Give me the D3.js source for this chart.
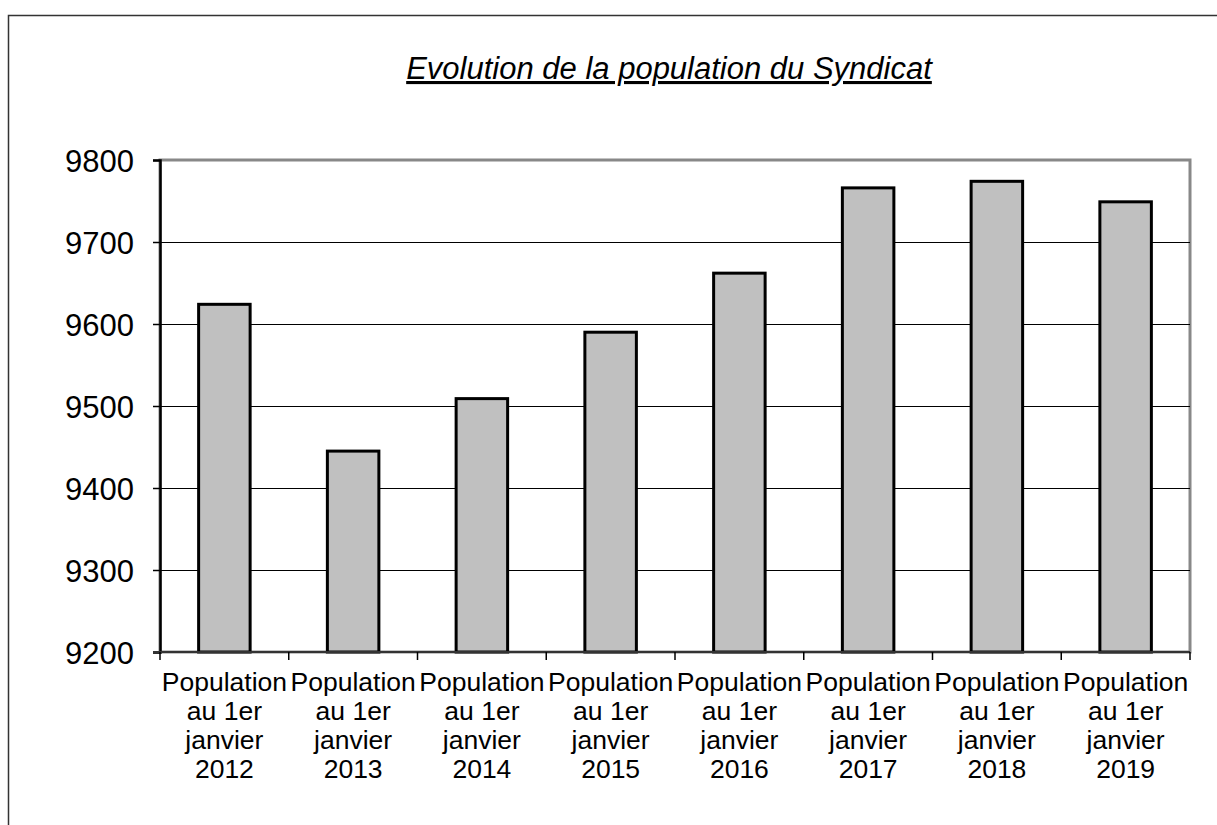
<!DOCTYPE html>
<html>
<head>
<meta charset="utf-8">
<script src="https://cdn.jsdelivr.net/npm/d3@7"></script>
<style>
  body { margin: 0; background: #fff; }
  text { font-family: "Liberation Sans", Arial, sans-serif; fill: #000; }
</style>
</head>
<body>
<script>
var width = 1217, height = 825

var years = ["2012", "2013", "2014", "2015", "2016", "2017", "2018", "2019"]
var population = [9624, 9445, 9509, 9590, 9662, 9766, 9774, 9749]
var yTicks = [9200, 9300, 9400, 9500, 9600, 9700, 9800]
var labelLines = ["Population", "au 1er", "janvier"]

var plotLeft = 160, plotRight = 1190, plotTop = 160, plotBottom = 652

var x = d3.scaleBand()
    .domain(years)
    .range([plotLeft, plotRight])
    .padding(0)

var y = d3.scaleLinear()
    .domain([9200, 9800])
    .range([plotBottom, plotTop])

var svg = d3.select("body").append("svg")
    .attr("width", width)
    .attr("height", height)

// outer frame
svg.append("rect")
    .attr("x", 8.5).attr("y", 15.5)
    .attr("width", 1300).attr("height", 900)
    .attr("fill", "none")
    .attr("stroke", "#333")
    .attr("stroke-width", 1.5)

// title
svg.append("text")
    .text("Evolution de la population du Syndicat")
    .attr("x", 669)
    .attr("y", 79)
    .attr("text-anchor", "middle")
    .style("font-size", "31px")
    .style("font-style", "italic")
    .style("text-decoration", "underline")

// plot area border (grey)
svg.append("rect")
    .attr("x", plotLeft).attr("y", plotTop)
    .attr("width", plotRight - plotLeft).attr("height", plotBottom - plotTop)
    .attr("fill", "none")
    .attr("stroke", "#888")
    .attr("stroke-width", 3)

// gridlines
svg.selectAll(".grid")
    .data(yTicks.slice(1, -1))
  .enter().append("line")
    .attr("x1", plotLeft).attr("x2", plotRight)
    .attr("y1", function(d) { return Math.round(y(d)) + 0.5 })
    .attr("y2", function(d) { return Math.round(y(d)) + 0.5 })
    .attr("stroke", "#000")
    .attr("stroke-width", 1.2)

// bars
var bw = x.bandwidth() * 0.4
svg.selectAll(".bar")
    .data(population)
  .enter().append("rect")
    .attr("x", function(d, i) { return x(years[i]) + x.bandwidth() / 2 - bw / 2 })
    .attr("y", function(d) { return y(d) })
    .attr("width", bw)
    .attr("height", function(d) { return y(9200) - y(d) })
    .attr("fill", "#c0c0c0")
    .attr("stroke", "#000")
    .attr("stroke-width", 3)

// y axis
var yAxis = svg.append("g")
    .attr("transform", "translate(" + plotLeft + ",0)")
    .call(d3.axisLeft(y).tickValues(yTicks).tickSize(7).tickPadding(19).tickFormat(d3.format("d")))
yAxis.select(".domain").attr("stroke", "#000").attr("stroke-width", 2.5)
yAxis.selectAll(".tick line").attr("stroke", "#000").attr("stroke-width", 1.5)
yAxis.selectAll("text").style("font-size", "31px").attr("fill", "#000").attr("dy", "0.36em")

// x axis
var xAxis = svg.append("g")
    .attr("transform", "translate(0," + plotBottom + ")")
xAxis.append("line")
    .attr("x1", plotLeft - 7).attr("x2", plotRight)
    .attr("y1", 0).attr("y2", 0)
    .attr("stroke", "#333").attr("stroke-width", 2)
xAxis.selectAll(".xt")
    .data(d3.range(years.length + 1))
  .enter().append("line")
    .attr("x1", function(i) { return i < years.length ? x(years[i]) : plotRight })
    .attr("x2", function(i) { return i < years.length ? x(years[i]) : plotRight })
    .attr("y1", 0).attr("y2", 8)
    .attr("stroke", "#000").attr("stroke-width", 1.5)

var lbl = xAxis.selectAll(".xl")
    .data(years)
  .enter().append("text")
    .attr("text-anchor", "middle")
    .style("font-size", "26.5px")
    .attr("transform", function(d) { return "translate(" + (x(d) + x.bandwidth() / 2) + ",0)" })
lbl.selectAll("tspan")
    .data(function(d) { return labelLines.concat([d]) })
  .enter().append("tspan")
    .attr("x", 0)
    .attr("y", function(d, i) { return 39 + i * 29 })
    .text(function(d) { return d })
</script>
</body>
</html>
